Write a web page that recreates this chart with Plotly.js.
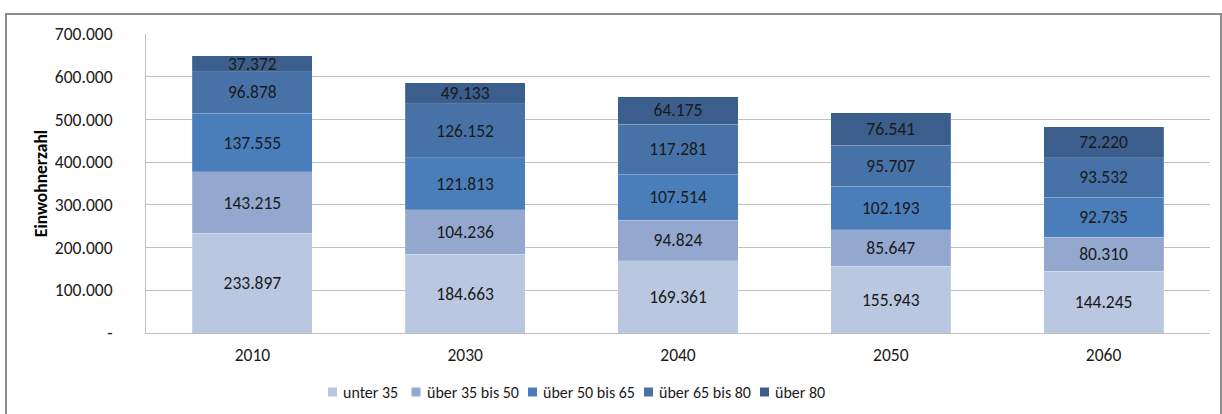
<!DOCTYPE html>
<html><head><meta charset="utf-8">
<script src="https://cdn.plot.ly/plotly-3.0.1.min.js"></script>
<style>html,body{margin:0;padding:0;background:#fff;}#chart{width:1222px;height:414px;}</style>
</head><body><div id="chart"></div>
<script>
const years = ['2010','2030','2040','2050','2060'];
const seriesNames = ['unter 35','über 35 bis 50','über 50 bis 65','über 65 bis 80','über 80'];
const unter35 = [233897,184663,169361,155943,144245];
const ueber35bis50 = [143215,104236,94824,85647,80310];
const ueber50bis65 = [137555,121813,107514,102193,92735];
const ueber65bis80 = [96878,126152,117281,95707,93532];
const ueber80 = [37372,49133,64175,76541,72220];
const yTickVals = [0,100000,200000,300000,400000,500000,600000,700000];
const yTickText = ['-','100.000','200.000','300.000','400.000','500.000','600.000','700.000'];
const colors = ['#B9C7E1','#94A8CF','#4A7EBB','#4672A8','#3B5E8C'];

const seriesData = [unter35, ueber35bis50, ueber50bis65, ueber65bis80, ueber80];
const font = 'Carlito, "Open Sans", "Noto Sans", sans-serif';
const traces = seriesData.map((vals,i)=>({
  type:'bar', name: seriesNames[i], x: years, y: vals,
  marker:{color: colors[i], line:{color:'rgba(255,255,255,0.35)', width:0.5}},
  texttemplate:'%{y:,.0f}', textposition:'inside', insidetextanchor:'middle',
  textfont:{family:font, size:17.5, color:'#1a1a1a'}, hoverinfo:'skip',
  constraintext:'none', showlegend:false
}));

// plot-area geometry in pixels (for the hand-placed legend and outer frame)
const PL = 146, PW = 1064, PB = 333, PH = 299;
const px = X => (X - PL) / PW;
const py = Y => (PB - Y) / PH;
const legendMarkerX = [328, 411.5, 528, 644, 760];
const legendY = 392;

const shapes = [
  {type:'rect', xref:'paper', yref:'paper', x0:px(6), x1:px(1221), y0:py(420), y1:py(14),
   line:{color:'#8C8C8C', width:2}, fillcolor:'rgba(0,0,0,0)', layer:'below'}
];
const annotations = [];
seriesNames.forEach((n,i)=>{
  const mx = legendMarkerX[i];
  shapes.push({type:'rect', xref:'paper', yref:'paper', x0:px(mx), x1:px(mx+9),
               y0:py(legendY+4.5), y1:py(legendY-4.5), line:{width:0}, fillcolor:colors[i]});
  annotations.push({xref:'paper', yref:'paper', x:px(mx+13), y:py(legendY), xanchor:'left',
               yanchor:'middle', text:n, showarrow:false,
               font:{family:font, size:16, color:'#1a1a1a'}});
});

const layout = {
  width:1222, height:414, barmode:'stack', bargap:0.436,
  separators:',.',
  margin:{l:146, r:12, t:34, b:81},
  paper_bgcolor:'#ffffff', plot_bgcolor:'#ffffff',
  font:{family:font, size:17.5, color:'#1a1a1a'},
  showlegend:false,
  xaxis:{type:'category', showgrid:false, showline:true, linecolor:'#BFBFBF', linewidth:1,
         ticks:'', tickfont:{family:font, size:17.5, color:'#1a1a1a'}, ticklabelstandoff:6, fixedrange:true},
  yaxis:{range:[0,700000], tickvals:yTickVals, ticktext:yTickText, showgrid:true,
         gridcolor:'#BFBFBF', gridwidth:1, showline:true, linecolor:'#BFBFBF', linewidth:1,
         ticks:'', ticklabelstandoff:29, tickfont:{family:font, size:17.5, color:'#1a1a1a'}, zeroline:false,
         title:{text:'<b>Einwohnerzahl</b>', font:{family:font, size:17.5, color:'#000'}, standoff:2}},
  shapes: shapes,
  annotations: annotations
};
Plotly.newPlot('chart', traces, layout, {displayModeBar:false, staticPlot:true});
</script></body></html>
